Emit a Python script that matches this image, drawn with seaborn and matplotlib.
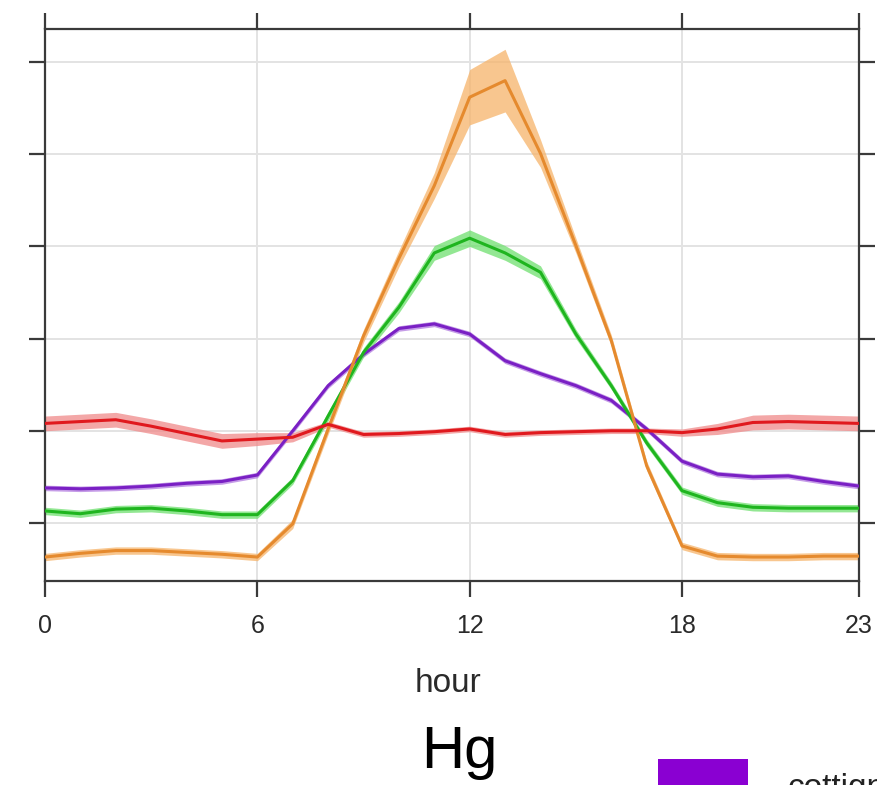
import matplotlib
matplotlib.use("Agg")
import numpy as np
import pandas as pd
import seaborn as sns
import matplotlib.pyplot as plt
from matplotlib.patches import Rectangle

# Hour of day
hours = list(range(24))
hour_ticks = [0, 6, 12, 18, 23]
y_ticks = [1, 2, 3, 4, 5, 6]

# Mean diurnal cycle of each series
cottignola = [1.38, 1.37, 1.38, 1.40, 1.43, 1.45, 1.52, 2.00, 2.49, 2.83, 3.11, 3.16,
              3.05, 2.76, 2.62, 2.49, 2.33, 2.02, 1.67, 1.53, 1.50, 1.51, 1.45, 1.40]
series_green = [1.13, 1.10, 1.15, 1.16, 1.13, 1.09, 1.09, 1.46, 2.16, 2.85, 3.34, 3.93,
                4.09, 3.93, 3.72, 3.05, 2.49, 1.87, 1.35, 1.22, 1.17, 1.16, 1.16, 1.16]
series_orange = [0.63, 0.67, 0.70, 0.70, 0.68, 0.66, 0.63, 0.99, 2.02, 3.03, 3.87, 4.66,
                 5.62, 5.80, 5.01, 4.01, 2.98, 1.62, 0.75, 0.64, 0.63, 0.63, 0.64, 0.64]
series_red = [2.08, 2.10, 2.12, 2.05, 1.97, 1.89, 1.91, 1.93, 2.07, 1.96, 1.97, 1.99,
              2.02, 1.96, 1.98, 1.99, 2.00, 2.00, 1.98, 2.02, 2.09, 2.10, 2.09, 2.08]

# Half-width of the 95% confidence interval for each hour
ci_purple = [0.03] * 24
ci_green = [0.04, 0.04, 0.04, 0.04, 0.04, 0.04, 0.04, 0.04, 0.05, 0.05, 0.06, 0.08,
            0.09, 0.08, 0.07, 0.05, 0.04, 0.04, 0.04, 0.04, 0.04, 0.04, 0.04, 0.04]
ci_orange = [0.04, 0.04, 0.04, 0.04, 0.04, 0.04, 0.04, 0.05, 0.06, 0.07, 0.09, 0.14,
             0.30, 0.34, 0.15, 0.08, 0.06, 0.05, 0.04, 0.04, 0.04, 0.04, 0.04, 0.04]
ci_red = [0.08, 0.08, 0.08, 0.08, 0.08, 0.08, 0.07, 0.05, 0.03, 0.03, 0.03, 0.03,
          0.03, 0.03, 0.03, 0.03, 0.03, 0.03, 0.04, 0.06, 0.08, 0.08, 0.08, 0.08]

names = ["cottignola", "series_green", "series_orange", "series_red"]
means = [cottignola, series_green, series_orange, series_red]
cis = [ci_purple, ci_green, ci_orange, ci_red]
line_colors = ["#7A20C4", "#1FB51F", "#E58A2E", "#E0191E"]
band_colors = ["#B27BE0", "#6FE06F", "#F6B46A", "#F08A8A"]

rows = []
for name, m, c in zip(names, means, cis):
    for h, v, e in zip(hours, m, c):
        rows.append({"hour": h, "Hg": v, "lower": v - e, "upper": v + e, "series": name})
df = pd.DataFrame(rows)

sns.set_theme(style="white")
plt.rcParams["font.family"] = ["Liberation Sans", "DejaVu Sans"]

W, H = 877, 785
fig = plt.figure(figsize=(W / 100, H / 100), dpi=100)
ax = fig.add_axes([45 / W, 1 - 581 / H, (859 - 45) / W, (581 - 29) / H])

# Confidence bands first, then the mean lines on top
for name, bc in zip(names, band_colors):
    sub = df[df["series"] == name]
    ax.fill_between(sub["hour"], sub["lower"], sub["upper"], color=bc,
                    alpha=0.75, linewidth=0, zorder=2)

sns.lineplot(data=df, x="hour", y="Hg", hue="series", hue_order=names,
             palette=dict(zip(names, line_colors)), linewidth=2.2,
             errorbar=None, legend=False, ax=ax, zorder=3)

ax.set_xlim(0, 23)
ax.set_ylim(0.37, 6.36)
ax.set_xticks(hour_ticks)
ax.set_xticklabels([str(h) for h in hour_ticks])
ax.set_yticks(y_ticks)
ax.set_yticklabels([])
ax.set_ylabel("")

ax.grid(True, color="#E3E3E3", linewidth=1.4, zorder=0)
ax.set_axisbelow(True)
for s in ax.spines.values():
    s.set_color("#3a3a3a")
    s.set_linewidth(1.6)

ax.tick_params(axis="both", which="major", direction="out", length=11.5,
               width=1.6, color="#3a3a3a", top=True, right=True,
               bottom=True, left=True)
ax.tick_params(axis="x", labelsize=18, labelcolor="#2a2a2a", pad=12)

ax.set_xlabel("hour", fontsize=24, color="#2a2a2a")
ax.xaxis.set_label_coords((448 - 45) / (859 - 45), -0.157)

fig.text(459 / W, 1 - 768 / H, "Hg", fontsize=43, color="black",
         ha="center", va="baseline")

# Key for the first series
fig.patches.append(Rectangle((658 / W, 1 - 800 / H), 90 / W, 41 / H,
                             transform=fig.transFigure, facecolor="#8A00D2",
                             edgecolor="none"))
fig.text(788 / W, 1 - 797 / H, "cottignola", fontsize=24, color="#222222",
         ha="left", va="baseline")

fig.savefig("out.png", dpi=100)
